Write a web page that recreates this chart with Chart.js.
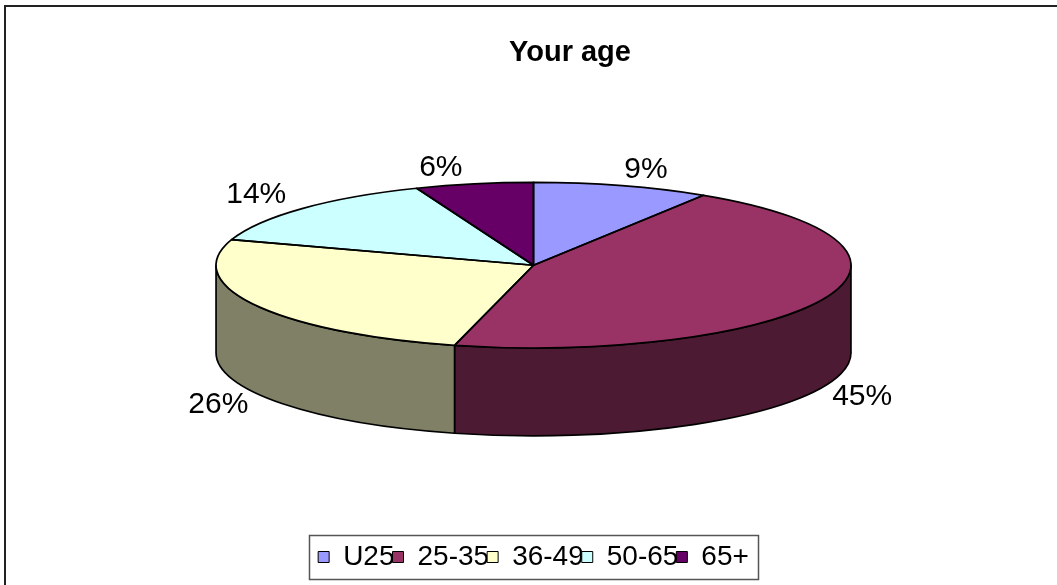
<!DOCTYPE html>
<html>
<head>
<meta charset="utf-8">
<script src="https://cdn.jsdelivr.net/npm/chart.js@4"></script>
<style>
  html, body { margin: 0; padding: 0; background: #fff; }
  #wrap { width: 1057px; height: 585px; }
</style>
</head>
<body>
<div id="wrap"><canvas id="ageChart" width="1057" height="585"></canvas></div>
<script>
// Chart values
const ageGroups = ["U25", "25-35", "36-49", "50-65", "65+"];
const sharePct = [9, 45, 26, 14, 6];

// Excel-style palette: top faces and darker side walls
const topColors = ["#9999FF", "#993366", "#FFFFCC", "#CCFFFF", "#660066"];
const sideColors = ["#4D4D80", "#4D1A33", "#808066", "#668080", "#330033"];

const FONT = "'Liberation Sans', Arial, sans-serif";

// 3D look: ellipse stretch / squash and wall depth, relative to the pie radius
const STRETCH = 1.346;
const SQUASH = 0.351;
const DEPTH = 0.3724;

function pieGeometry(chart) {
  const arcs = chart.getDatasetMeta(0).data;
  const R = arcs[0].outerRadius;
  const depth = R * DEPTH;
  return {
    arcs: arcs,
    R: R,
    cx: arcs[0].x,
    cy: arcs[0].y - depth / 2,
    rx: R * STRETCH,
    ry: R * SQUASH,
    depth: depth,
  };
}

const pie3d = {
  id: "pie3d",
  afterLayout(chart) {
    // Excel puts the title a little right of the plot centre
    if (chart.titleBlock) chart.titleBlock.left += 73;
  },
  beforeDraw(chart) {
    const ctx = chart.ctx;
    ctx.save();
    ctx.fillStyle = "#fff";
    ctx.fillRect(0, 0, chart.width, chart.height);
    // outer chart frame (runs off the right and bottom edges)
    ctx.strokeStyle = "#222";
    ctx.lineWidth = 2;
    ctx.strokeRect(5, 6, chart.width + 20, chart.height + 20);
    ctx.restore();
  },
  beforeDatasetsDraw(chart) {
    const g = pieGeometry(chart);
    const ctx = chart.ctx;
    ctx.save();
    ctx.lineWidth = 1.7;
    ctx.strokeStyle = "#000";
    ctx.lineJoin = "round";
    // front walls: only the part of each slice between 0 and PI is visible
    g.arcs.forEach((arc, i) => {
      const a = Math.max(arc.startAngle, 0);
      const b = Math.min(arc.endAngle, Math.PI);
      if (b <= a) return;
      ctx.beginPath();
      ctx.ellipse(g.cx, g.cy, g.rx, g.ry, 0, a, b, false);
      ctx.lineTo(g.cx + g.rx * Math.cos(b), g.cy + g.depth + g.ry * Math.sin(b));
      ctx.ellipse(g.cx, g.cy + g.depth, g.rx, g.ry, 0, b, a, true);
      ctx.closePath();
      ctx.fillStyle = sideColors[i];
      ctx.fill();
      ctx.stroke();
    });
    ctx.restore();

    // squash the library's own pie into the top ellipse
    ctx.save();
    ctx.translate(g.cx, g.cy);
    ctx.scale(g.rx / g.R, g.ry / g.R);
    ctx.translate(-g.arcs[0].x, -g.arcs[0].y);
  },
  afterDatasetsDraw(chart) {
    const ctx = chart.ctx;
    ctx.restore();
    const g = pieGeometry(chart);

    // slice outlines on the top face
    ctx.save();
    ctx.lineWidth = 1.7;
    ctx.strokeStyle = "#000";
    ctx.lineJoin = "round";
    g.arcs.forEach((arc) => {
      ctx.beginPath();
      ctx.moveTo(g.cx, g.cy);
      ctx.ellipse(g.cx, g.cy, g.rx, g.ry, 0, arc.startAngle, arc.endAngle, false);
      ctx.closePath();
      ctx.stroke();
    });

    // percentage labels just outside the rim, pushed below the wall at the front
    ctx.fillStyle = "#000";
    ctx.font = "30px " + FONT;
    const total = sharePct.reduce((s, v) => s + v, 0);
    g.arcs.forEach((arc, i) => {
      const mid = (arc.startAngle + arc.endAngle) / 2;
      const c = Math.cos(mid);
      const s = Math.sin(mid);
      let x = g.cx + (g.rx + 8) * c;
      let y = g.cy + (g.ry + 8) * s;
      ctx.textAlign = c >= 0 ? "left" : "right";
      if (s > 0) {
        y += g.depth + 8;
        ctx.textBaseline = "middle";
      } else {
        // upper-left labels sit a little further out
        if (c < 0) x -= 10;
        ctx.textBaseline = "alphabetic";
      }
      ctx.fillText(Math.round((sharePct[i] / total) * 100) + "%", x, y);
    });
    ctx.restore();
  },
};

// frame around the legend, sized from the legend's own item boxes
const legendFrame = {
  id: "legendFrame",
  afterDraw(chart) {
    const lg = chart.legend;
    if (!lg || !lg.legendHitBoxes.length) return;
    const boxes = lg.legendHitBoxes;
    const left = Math.min(...boxes.map((b) => b.left)) - 9;
    const right = Math.max(...boxes.map((b) => b.left + b.width)) + 9;
    const mid = boxes[0].top + boxes[0].height / 2;
    const ctx = chart.ctx;
    ctx.save();
    ctx.strokeStyle = "#555";
    ctx.lineWidth = 1.5;
    ctx.strokeRect(Math.round(left) + 0.5, Math.round(mid - 22) + 0.5, Math.round(right - left), 44);
    ctx.restore();
  },
};

new Chart(document.getElementById("ageChart"), {
  type: "pie",
  data: {
    labels: ageGroups,
    datasets: [
      {
        data: sharePct,
        backgroundColor: topColors,
        borderWidth: 0,
        clip: false,
      },
    ],
  },
  options: {
    responsive: false,
    animation: false,
    layout: { padding: { top: 0, bottom: 4, left: 10, right: 0 } },
    plugins: {
      tooltip: { enabled: false },
      title: {
        display: true,
        text: "Your age",
        color: "#000",
        font: { family: FONT, size: 29, weight: "bold" },
        padding: { top: 35.6, bottom: 2.9 },
      },
      legend: {
        position: "bottom",
        labels: {
          color: "#000",
          font: { family: FONT, size: 28 },
          boxWidth: 11,
          boxHeight: 11,
          padding: -2,
          generateLabels(chart) {
            const items = Chart.overrides.pie.plugins.legend.labels.generateLabels(chart);
            return items.map((it) => ({ ...it, strokeStyle: "#000", lineWidth: 1 }));
          },
        },
      },
    },
  },
  plugins: [pie3d, legendFrame],
});
</script>
</body>
</html>
